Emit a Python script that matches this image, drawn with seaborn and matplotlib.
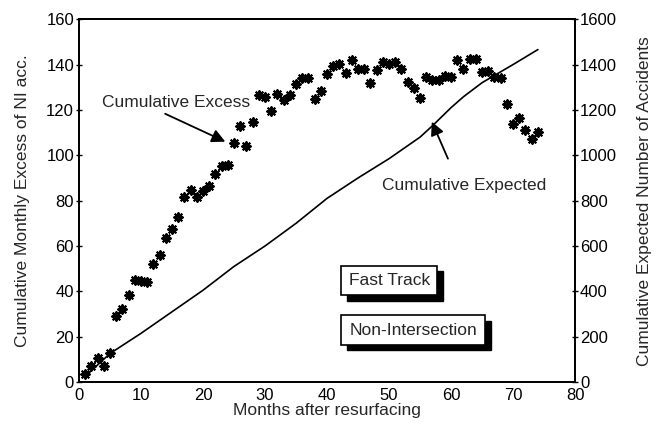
import numpy as np
import pandas as pd
import matplotlib
matplotlib.use("Agg")
import matplotlib.pyplot as plt
import seaborn as sns

# monthly cumulative excess (left axis)
months = list(range(1, 75))
excess = [3.5, 7.2, 10.6, 7.0, 12.8, 29.2, 32.2, 38.3, 45.1, 44.5,
          44.1, 52.1, 56.1, 63.7, 67.4, 72.8, 81.5, 84.9, 81.5, 84.1,
          86.5, 91.6, 95.3, 95.7, 105.2, 112.9, 104.0, 114.8, 126.6, 125.7,
          119.5, 127.2, 124.2, 126.6, 131.6, 134.1, 134.1, 125.0, 128.2, 136.0,
          139.2, 140.4, 136.4, 142.2, 138.1, 138.1, 132.0, 137.5, 141.0, 140.1,
          141.3, 137.9, 132.2, 129.6, 125.4, 134.6, 133.2, 133.0, 134.9, 134.6,
          142.2, 138.0, 142.6, 142.3, 136.7, 137.0, 134.5, 134.2, 122.8, 113.7,
          116.6, 111.3, 107.0, 110.3]

# cumulative expected (right axis), read at a few months
exp_months = [1, 5, 10, 15, 20, 25, 30, 35, 40, 45, 50, 55, 57, 60, 62, 65, 70, 74]
expected = [25, 126, 215, 310, 405, 510, 600, 700, 810, 900, 985, 1080, 1130,
            1210, 1258, 1320, 1400, 1466]

df_ex = pd.DataFrame({"month": months, "excess": excess})
df_exp = pd.DataFrame({"month": exp_months, "expected": expected})

sns.set_style("white")
plt.rcParams["font.family"] = ["Liberation Sans", "DejaVu Sans"]
fs = 12.5

fig = plt.figure(figsize=(6.58, 4.26), dpi=100)
ax = fig.add_axes([0.12, 0.103, 0.754, 0.852])
ax2 = ax.twinx()

sns.scatterplot(data=df_ex, x="month", y="excess", ax=ax, marker=(8, 2, 0),
                s=38, color="black", linewidth=1.5, zorder=3)
sns.lineplot(data=df_exp, x="month", y="expected", ax=ax2, color="black", lw=1.2)

ax.set_xlim(0, 80)
ax.set_ylim(0, 160)
ax2.set_ylim(0, 1600)
ax.set_xticks(range(0, 81, 10))
ax.set_yticks(range(0, 161, 20))
ax2.set_yticks(range(0, 1601, 200))

ax.set_xlabel("Months after resurfacing", fontsize=fs, labelpad=0)
ax.set_ylabel("Cumulative Monthly Excess of NI acc.", fontsize=fs, labelpad=12)
ax2.set_ylabel("Cumulative Expected Number of Accidents", fontsize=fs, labelpad=14)

for a in (ax, ax2):
    for s in a.spines.values():
        s.set_color("black")
        s.set_linewidth(1.3)
    a.tick_params(direction="inout", length=5, width=1, colors="black",
                  labelsize=12, pad=1)
ax.tick_params(axis="x", pad=2)

# annotations with arrows
ax.text(15.6, 123.3, "Cumulative Excess", ha="center", va="center", fontsize=fs)
ax.annotate("", xy=(23.6, 106.0), xytext=(13.9, 118.3),
            arrowprops=dict(arrowstyle="-|>", color="black", lw=1.3,
                            mutation_scale=20, shrinkA=0, shrinkB=0))
ax.text(62.1, 86.8, "Cumulative Expected", ha="center", va="center", fontsize=fs)
ax.annotate("", xy=(56.9, 114.8), xytext=(59.5, 98.5),
            arrowprops=dict(arrowstyle="-|>", color="black", lw=1.3,
                            mutation_scale=20, shrinkA=0, shrinkB=0))

# shadowed label boxes
for label, x0, y0, w, h in [("Fast Track", 42.3, 38.2, 15.5, 13.2),
                            ("Non-Intersection", 42.3, 16.4, 23.2, 13.0)]:
    ax.add_patch(plt.Rectangle((x0 + 0.9, y0 - 2.3), w, h, facecolor="black",
                               edgecolor="black", zorder=4))
    ax.add_patch(plt.Rectangle((x0, y0), w, h, facecolor="white",
                               edgecolor="black", lw=1.2, zorder=5))
    ax.text(x0 + w / 2, y0 + h / 2, label, ha="center", va="center",
            fontsize=fs, zorder=6)

fig.savefig("out.png", dpi=100)
